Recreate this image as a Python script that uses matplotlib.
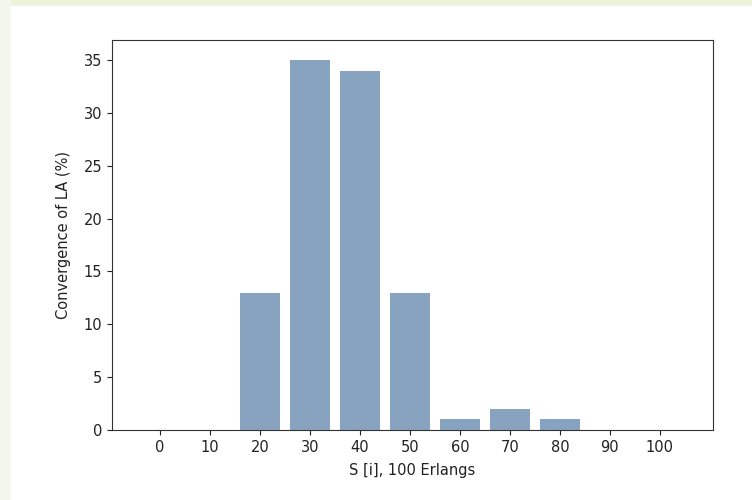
import matplotlib.pyplot as plt
from matplotlib.patches import Rectangle

# Data
s_values = [0, 10, 20, 30, 40, 50, 60, 70, 80, 90, 100]
convergence = [0, 0, 13, 35, 34, 13, 1, 2, 1, 0, 0]

fig = plt.figure(figsize=(7.52, 5.0), dpi=100)
fig.patch.set_facecolor('white')

# light green screenshot border at top / left
fig.patches.append(Rectangle((0, 0.988), 1, 0.012, transform=fig.transFigure,
                             facecolor='#edf2dd', edgecolor='none', zorder=0))
fig.patches.append(Rectangle((0, 0), 0.014, 1, transform=fig.transFigure,
                             facecolor='#f3f6ea', edgecolor='none', zorder=0))

ax = fig.add_axes([0.149, 0.14, 0.799, 0.78])
ax.bar(s_values, convergence, width=8, color='#88a3bf')

ax.set_xticks(s_values)
ax.set_xlim(-9.6, 110.6)
ax.set_ylim(0, 36.9)
ax.set_yticks(range(0, 36, 5))
ax.tick_params(labelsize=10.5, colors='#222222')
for sp in ax.spines.values():
    sp.set_color('#333333')

ax.set_xlabel('S [i], 100 Erlangs', fontsize=10.5, color='#222222', labelpad=6)
ax.set_ylabel('Convergence of LA (%)', fontsize=10.5, color='#222222', labelpad=9)

fig.savefig('out.png', dpi=100)
